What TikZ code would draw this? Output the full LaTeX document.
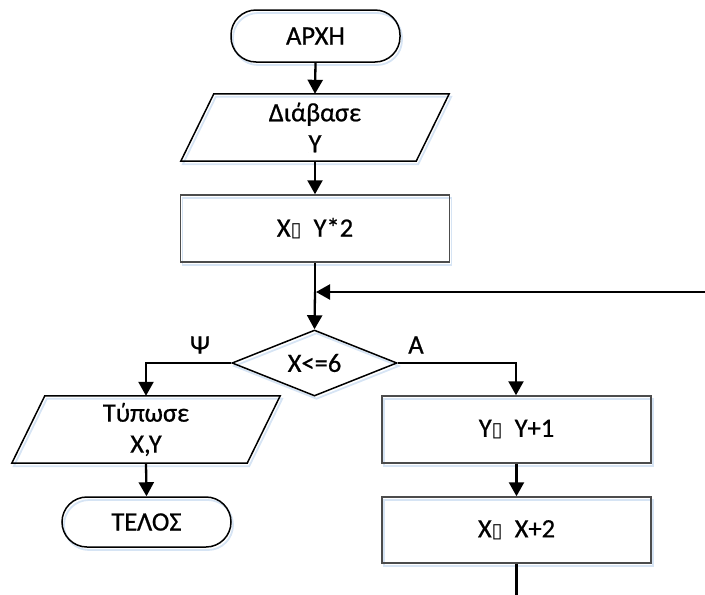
\documentclass[tikz,border=0pt]{standalone}
\usepackage{fontspec}
\setmainfont{Carlito}[FakeBold=0.7]
\newfontfamily\symfont{DejaVu Sans}
\usetikzlibrary{shapes.geometric,arrows.meta}
\definecolor{shadowc}{RGB}{214,228,244}
\newcommand{\tofu}{{\symfont\fontsize{20}{24}\selectfont ▯}}
\tikzset{
  x=1pt, y=1pt,
  base/.style={font=\fontsize{26.5}{31}\selectfont, inner sep=0pt, align=center},
  shad/.style={preaction={draw=shadowc, line width=1.8pt, transform canvas={shift={(2pt,-3pt)}}}},
  term/.style={base, draw, line width=1.5pt, rounded corners=25pt, minimum width=169pt, shad},
  proc/.style={base, draw=black!70, line width=1.5pt, minimum width=269pt, minimum height=67pt, shad},
  iobox/.style={base, minimum width=268pt, minimum height=67pt},
  para/.style={draw, line width=1.5pt, shad},
  dec/.style={base, draw, line width=1.5pt, diamond, aspect=2.5, minimum width=165pt, minimum height=66pt, shad},
  arr/.style={line width=2.3pt, -{Triangle[width=15pt,length=14pt]}},
  ln/.style={line width=2.3pt},
  lbl/.style={font=\fontsize{26.5}{31}\selectfont, inner sep=0pt},
}
\begin{document}
\begin{tikzpicture}
\useasboundingbox (0,0) rectangle (705,-595);
% nodes
\node[term, minimum height=52pt] (start) at (315.5,-36) {ΑΡΧΗ};
\node[iobox] (read) at (315,-127.5) {Διάβασε\\Υ};
\draw[para] ([xshift=33pt]read.north west) -- (read.north east) -- ([xshift=-33pt]read.south east) -- (read.south west) -- cycle;
\node[proc] (calc) at (315,-228.5) {X\tofu\ \ Y*2};
\coordinate (join) at (315,-292);
\coordinate (loopin) at (705,-292);
\node[dec] (cond) at (314.5,-363) {X<=6};
\coordinate (lc) at (146,-363);
\coordinate (rc) at (516,-363);
\node[iobox] (print) at (146,-429.5) {Τύπωσε\\X,Y};
\draw[para] ([xshift=33pt]print.north west) -- (print.north east) -- ([xshift=-33pt]print.south east) -- (print.south west) -- cycle;
\node[term, minimum height=50pt] (stop) at (146.5,-522) {ΤΕΛΟΣ};
\node[proc] (incy) at (516.5,-429.5) {Y\tofu\ \ Y+1};
\node[proc, minimum height=66pt] (incx) at (516.5,-530) {X\tofu\ \ X+2};
\coordinate (outend) at (516.5,-595);
\node[lbl] (lno) at (200,-345) {Ψ};
\node[lbl] (lyes) at (416,-345) {Α};
% connectors
\draw[arr] (start.south) -- (read.north);
\draw[arr] (read.south) -- (calc.north);
\draw[ln] (calc.south) -- (join);
\draw[arr] (join) -- (cond.north);
\draw[arr] (loopin) -- ([xshift=1pt]join);
\draw[arr] (cond.west) -- (lc) -- (print.north);
\draw[arr] (print.south) -- (stop.north);
\draw[arr] (cond.east) -- (rc) -- (incy.north -| rc);
\draw[arr] (incy.south) -- (incx.north);
\draw[ln] (incx.south) -- (outend);
\end{tikzpicture}
\end{document}
